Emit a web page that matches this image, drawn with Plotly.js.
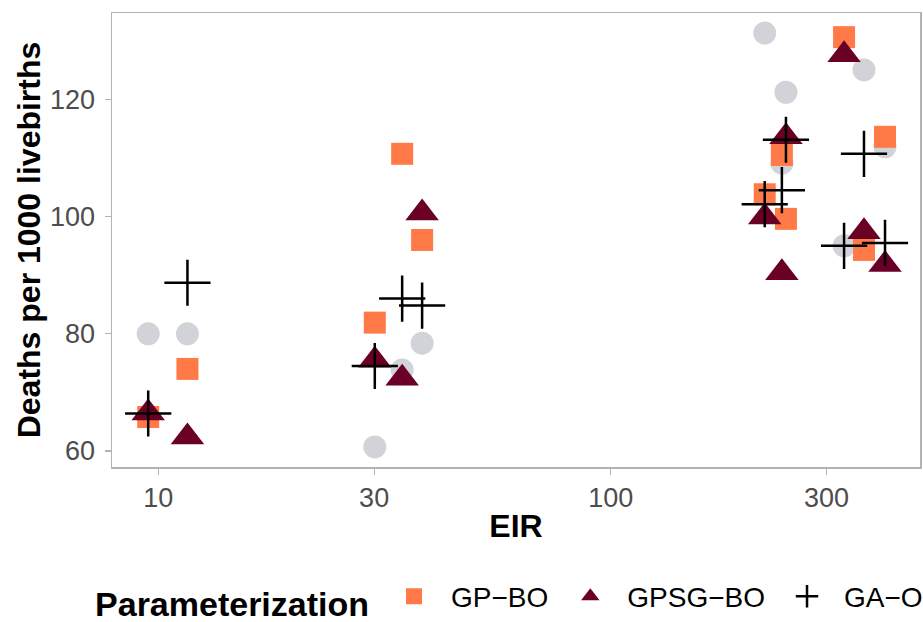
<!DOCTYPE html>
<html>
<head>
<meta charset="utf-8">
<script src="https://cdn.plot.ly/plotly-3.0.1.min.js"></script>
<style>
  html, body { margin: 0; padding: 0; background: #ffffff; }
  #chart { width: 923px; height: 622px; }
</style>
</head>
<body>
<div id="chart"></div>
<script>
// EIR values (x, log scale)
const eir = [9.5, 11.6, 30.1, 34.6, 38.3, 219, 239, 244, 328, 363, 404];

// Deaths per 1000 livebirths
const observed = [80.0, 80.0, 60.7, 73.8, 78.4, 131.3, 109.1, 121.2, 95.0, 125.0, 111.9];
const gpBO     = [65.8, 74.0, 81.9, 110.7, 96.0, 103.8, 110.5, 99.6, 130.6, 94.3, 113.6];
const gpsgBO   = [66.5, 62.4, 75.5, 72.4, 100.6, 99.9, 90.4, 113.6, 127.6, 97.4, 91.8];
const gaO      = [66.4, 88.7, 74.5, 86.0, 84.8, 102.1, 104.5, 113.1, 95.0, 110.7, 95.5];

const seriesNames = ["GP\u2212BO", "GPSG\u2212BO", "GA\u2212O"];
const xTickVals = [10, 30, 100, 300];
const xTickText = ["10", "30", "100", "300"];
const yTickVals = [60, 80, 100, 120];

const FONT = "Liberation Sans, Arial, Helvetica, sans-serif";

const traces = [
  {
    x: eir, y: observed, type: "scatter", mode: "markers",
    name: "Observed", showlegend: false, hoverinfo: "x+y",
    marker: { symbol: "circle", size: 23, color: "#D2D3D9" }
  },
  {
    x: eir, y: gpBO, type: "scatter", mode: "markers",
    name: seriesNames[0],
    marker: { symbol: "square", size: 22, color: "#FF7A47" }
  },
  {
    x: eir, y: gpsgBO, type: "scatter", mode: "markers",
    name: seriesNames[1],
    marker: { symbol: "triangle-up", size: 29, color: "#6A0026" }
  },
  {
    x: eir, y: gaO, type: "scatter", mode: "markers",
    name: seriesNames[2],
    marker: { symbol: "cross-thin", size: 33, color: "#000000",
              line: { color: "#000000", width: 2.5 } }
  }
];

const layout = {
  width: 923, height: 622,
  paper_bgcolor: "#ffffff", plot_bgcolor: "#ffffff",
  margin: { l: 112, r: 3, t: 13, b: 155, autoexpand: false },
  font: { family: FONT, color: "#000000" },
  xaxis: {
    type: "log",
    range: [0.8977, 2.6837],
    tickmode: "array", tickvals: xTickVals, ticktext: xTickText,
    showgrid: false, zeroline: false,
    showline: true, mirror: true, linecolor: "#B3B3B3", linewidth: 1.5,
    ticks: "outside", ticklen: 6, tickwidth: 1.2, tickcolor: "#B3B3B3",
    tickfont: { family: FONT, size: 27, color: "#4D4D4D" },
    ticklabelstandoff: 0,
    automargin: false,
    title: { text: "<b>EIR</b>", font: { family: FONT, size: 32, color: "#000000" }, standoff: 2 }
  },
  yaxis: {
    range: [57.27, 134.72],
    tickmode: "array", tickvals: yTickVals,
    showgrid: false, zeroline: false,
    showline: true, mirror: true, linecolor: "#B3B3B3", linewidth: 1.5,
    ticks: "outside", ticklen: 6, tickwidth: 1.2, tickcolor: "#B3B3B3",
    tickfont: { family: FONT, size: 27, color: "#4D4D4D" },
    ticklabelstandoff: 4,
    automargin: false,
    title: { text: "<b>Deaths per 1000 livebirths</b>", font: { family: FONT, size: 32, color: "#000000" }, standoff: 0 }
  },
  legend: {
    orientation: "h",
    xref: "container", yref: "container",
    x: 0.1008, xanchor: "left",
    y: 0.037, yanchor: "middle",
    font: { family: FONT, size: 28, color: "#000000" },
    title: { text: "<b>Parameterization</b>", font: { family: FONT, size: 34, color: "#000000" }, side: "left" },
    itemwidth: 64,
    bgcolor: "rgba(0,0,0,0)"
  },
  showlegend: true
};

Plotly.newPlot("chart", traces, layout, { displayModeBar: false, staticPlot: true });
</script>
</body>
</html>
